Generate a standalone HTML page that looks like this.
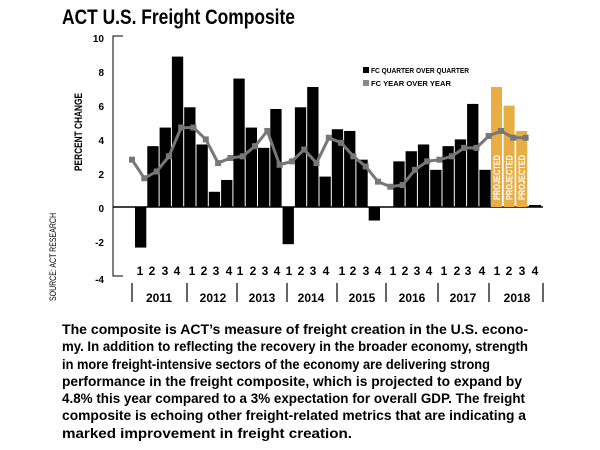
<!DOCTYPE html>
<html><head><meta charset="utf-8"><style>
html,body{margin:0;padding:0;background:#fff;width:600px;height:450px;overflow:hidden}
svg{display:block}
text{font-family:"Liberation Sans",sans-serif;font-weight:bold;fill:#000}
</style></head><body>
<svg width="600" height="450" viewBox="0 0 600 450" xmlns="http://www.w3.org/2000/svg">
<text x="62" y="24" font-size="21" textLength="233" lengthAdjust="spacingAndGlyphs">ACT U.S. Freight Composite</text>
<path d="M123,36 H113 V276 H123" fill="none" stroke="#000" stroke-width="1"/>
<g font-size="10" text-anchor="end">
<text x="104" y="42">10</text><text x="104" y="76">8</text><text x="104" y="110">6</text>
<text x="104" y="144">4</text><text x="104" y="178">2</text><text x="104" y="212">0</text>
<text x="104" y="246">-2</text><text x="104" y="283">-4</text>
</g>
<text transform="translate(82,132) rotate(-90)" font-size="11" text-anchor="middle" textLength="78" lengthAdjust="spacingAndGlyphs">PERCENT CHANGE</text>
<text transform="translate(56,257) rotate(-90)" font-size="9" style="font-weight:normal" text-anchor="middle" textLength="88" lengthAdjust="spacingAndGlyphs">SOURCE: ACT RESEARCH</text>
<line x1="113" y1="207" x2="543" y2="207" stroke="#000" stroke-width="1.5"/>
<g id="bars" fill="#000"></g>
<g id="proj"></g>
<polyline id="ln" fill="none" stroke="#777" stroke-width="3"/>
<g id="mk" fill="#777"></g>
<rect x="363" y="67" width="6" height="6" fill="#000"/>
<text x="371" y="73" font-size="7.5" textLength="98" lengthAdjust="spacingAndGlyphs">FC QUARTER OVER QUARTER</text>
<rect x="363" y="80" width="6" height="6" fill="#888"/>
<text x="371" y="86" font-size="7.5" textLength="80" lengthAdjust="spacingAndGlyphs">FC YEAR OVER YEAR</text>
<g id="ql" font-size="12" text-anchor="middle"></g>
<g stroke="#000" stroke-width="1.2">
<line x1="132" y1="283" x2="132" y2="302"/><line x1="187" y1="283" x2="187" y2="302"/>
<line x1="237" y1="283" x2="237" y2="302"/><line x1="287" y1="283" x2="287" y2="302"/>
<line x1="337" y1="283" x2="337" y2="302"/><line x1="386" y1="283" x2="386" y2="302"/>
<line x1="438" y1="283" x2="438" y2="302"/><line x1="489" y1="283" x2="489" y2="302"/>
<line x1="543" y1="283" x2="543" y2="302"/>
</g>
<g font-size="12" text-anchor="middle">
<text x="159" y="302">2011</text><text x="213" y="302">2012</text><text x="262" y="302">2013</text>
<text x="311" y="302">2014</text><text x="362" y="302">2015</text><text x="412" y="302">2016</text>
<text x="463" y="302">2017</text><text x="517" y="302">2018</text>
</g>
<g font-size="13.6">
<text x="62" y="334" textLength="466" lengthAdjust="spacingAndGlyphs">The composite is ACT’s measure of freight creation in the U.S. econo-</text>
<text x="62" y="351" textLength="466" lengthAdjust="spacingAndGlyphs">my. In addition to reflecting the recovery in the broader economy, strength</text>
<text x="62" y="369" textLength="428" lengthAdjust="spacingAndGlyphs">in more freight-intensive sectors of the economy are delivering strong</text>
<text x="62" y="386" textLength="460" lengthAdjust="spacingAndGlyphs">performance in the freight composite, which is projected to expand by</text>
<text x="62" y="403" textLength="463" lengthAdjust="spacingAndGlyphs">4.8% this year compared to a 3% expectation for overall GDP. The freight</text>
<text x="62" y="420" textLength="464" lengthAdjust="spacingAndGlyphs">composite is echoing other freight-related metrics that are indicating a</text>
<text x="62" y="438" textLength="290" lengthAdjust="spacingAndGlyphs">marked improvement in freight creation.</text>
</g>
</svg>
<script>
var NS="http://www.w3.org/2000/svg";
function el(p,t,a,txt){var e=document.createElementNS(NS,t);for(var k in a)e.setAttribute(k,a[k]);if(txt)e.textContent=txt;document.getElementById(p).appendChild(e);return e;}
var Y=function(v){return 207-v*16.9;};
var b=[-2.4,3.6,4.7,8.9,5.9,3.7,0.9,1.6,7.6,4.7,3.5,5.8,-2.2,5.9,7.1,1.8,4.6,4.5,2.8,-0.8,0,2.7,3.3,3.7,2.2,3.6,4.0,6.1,2.2];
for(var i=0;i<b.length;i++){var x=135+12.3*i,v=b[i];if(v==0)continue;
el("bars","rect",{x:x,y:Math.min(Y(v),207),width:11.3,height:Math.abs(v*16.9)});}
var pj=[7.1,6.0,4.5];
for(var j=0;j<3;j++){var x=491+12.6*j;
el("proj","rect",{x:x,y:Y(pj[j]),width:11,height:pj[j]*16.9,fill:"#E8AE44"});
el("proj","text",{transform:"translate("+(x+9)+",200) rotate(-90)","font-size":"9",style:"fill:#fff","textLength":"45","lengthAdjust":"spacingAndGlyphs"},"PROJECTED");}
el("proj","rect",{x:529,y:205,width:12,height:2,fill:"#000"});
var l=[2.8,1.7,2.1,3.0,4.7,4.7,4.0,2.6,2.9,3.0,3.6,4.5,2.5,2.7,3.4,2.6,4.1,3.8,3.0,2.4,1.5,1.2,1.3,2.2,2.7,2.8,3.0,3.5,3.5,4.2,4.5,4.1,4.1];
var pts=[];for(var i=0;i<l.length;i++){var x=132+12.3*i,y=Y(l[i]);pts.push(x+","+y);
el("mk","rect",{x:x-3,y:y-3,width:6,height:6});}
document.getElementById("ln").setAttribute("points",pts.join(" "));
var q=[140,152,165,177,192,204,216,229,240,253,265,277,289,301,313,326,342,353,366,378,393,405,417,429,444,457,468,482,497,509,522,535];
for(var i=0;i<q.length;i++)el("ql","text",{x:q[i],y:275},""+(i%4+1));
</script>
</body></html>
